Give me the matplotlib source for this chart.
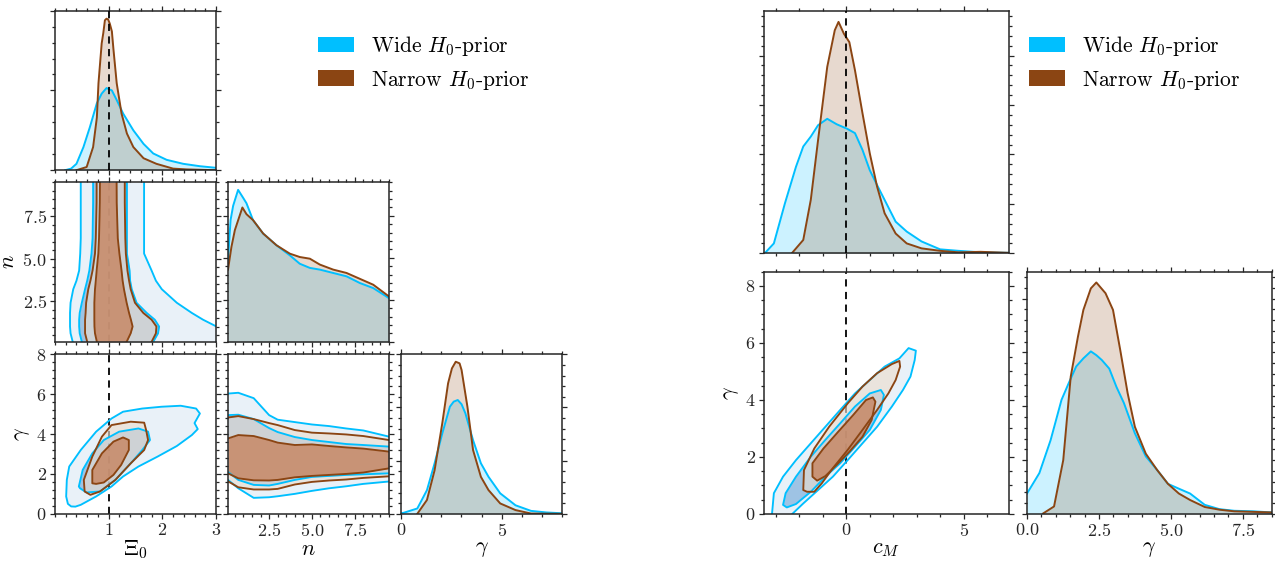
import numpy as np
import matplotlib
matplotlib.use("Agg")
import matplotlib.pyplot as plt
from matplotlib.ticker import MultipleLocator, FixedLocator, NullFormatter
from matplotlib.patches import Patch

plt.rcParams.update({
    "font.family": "serif",
    "font.serif": ["cmr10"],
    "mathtext.fontset": "cm",
    "axes.formatter.use_mathtext": True,
    "axes.unicode_minus": False,
})

WIDE = "#00BFFF"
NARROW = "#8B4513"
LABELS = [r"Wide $H_0$-prior", r"Narrow $H_0$-prior"]

# ---------------- 1D marginal posteriors ----------------
# Xi_0
xi0_wide_x = [0.19, 0.30, 0.40, 0.53, 0.65, 0.78, 0.87, 0.96, 1.06, 1.15, 1.27, 1.46, 1.65, 1.83, 2.08, 2.39, 2.70, 3.0]
xi0_wide_p = [0.0, 0.02, 0.08, 0.29, 0.54, 0.84, 0.96, 1.03, 1.00, 0.88, 0.71, 0.50, 0.33, 0.21, 0.13, 0.08, 0.05, 0.03]
xi0_narrow_x = [0.40, 0.59, 0.71, 0.78, 0.81, 0.84, 0.87, 0.90, 0.93, 0.96, 0.99, 1.02, 1.06, 1.09, 1.12, 1.15, 1.24, 1.34, 1.46, 1.65, 1.89, 2.20, 2.45, 3.0]
xi0_narrow_p = [0.0, 0.04, 0.29, 0.66, 1.09, 1.34, 1.59, 1.72, 1.88, 1.90, 1.89, 1.84, 1.74, 1.51, 1.30, 1.09, 0.71, 0.46, 0.29, 0.15, 0.08, 0.02, 0.01, 0.0]

# n
n_wide_x = [0.1, 0.25, 0.4, 0.69, 1.0, 1.18, 1.56, 2.15, 2.93, 3.71, 4.29, 4.88, 5.46, 6.24, 7.02, 7.80, 8.58, 9.5]
n_wide_p = [0.097, 0.145, 0.162, 0.181, 0.171, 0.165, 0.145, 0.129, 0.115, 0.103, 0.093, 0.088, 0.086, 0.082, 0.078, 0.070, 0.064, 0.052]
n_narrow_x = [0.1, 0.3, 0.5, 0.94, 1.18, 1.56, 2.15, 2.93, 3.71, 4.29, 4.88, 5.46, 6.24, 7.02, 7.80, 8.58, 9.5]
n_narrow_p = [0.086, 0.113, 0.133, 0.160, 0.152, 0.145, 0.129, 0.115, 0.105, 0.101, 0.099, 0.092, 0.086, 0.082, 0.075, 0.068, 0.054]

# gamma (Xi_0, n, gamma model)
g3_wide_x = [0.0, 0.14, 0.81, 1.29, 1.67, 2.05, 2.43, 2.62, 2.82, 3.01, 3.20, 3.58, 3.97, 4.35, 4.93, 5.69, 6.46, 7.23, 8.0]
g3_wide_p = [0.002, 0.004, 0.020, 0.089, 0.190, 0.302, 0.403, 0.422, 0.428, 0.412, 0.378, 0.277, 0.190, 0.139, 0.077, 0.032, 0.011, 0.005, 0.002]
g3_narrow_x = [0.81, 1.29, 1.67, 2.05, 2.34, 2.53, 2.72, 2.91, 3.01, 3.30, 3.58, 3.97, 4.35, 4.93, 5.69, 6.46, 8.0]
g3_narrow_p = [0.0, 0.052, 0.164, 0.340, 0.491, 0.547, 0.572, 0.566, 0.541, 0.403, 0.240, 0.139, 0.089, 0.039, 0.014, 0.001, 0.0]

# c_M
cm_wide_x = [-3.47, -3.08, -2.61, -2.14, -1.83, -1.51, -1.20, -0.81, -0.41, 0.03, 0.37, 0.69, 1.00, 1.31, 1.63, 2.10, 2.57, 3.20, 3.99, 4.77, 5.71, 6.9]
cm_wide_p = [0.0, 0.020, 0.101, 0.175, 0.216, 0.236, 0.259, 0.272, 0.261, 0.252, 0.243, 0.209, 0.168, 0.138, 0.108, 0.064, 0.044, 0.024, 0.008, 0.005, 0.002, 0.001]
cm_narrow_x = [-2.30, -1.83, -1.51, -1.20, -0.81, -0.49, -0.33, -0.10, 0.13, 0.37, 0.69, 1.00, 1.31, 1.63, 2.10, 2.57, 3.20, 3.99, 4.77, 5.71, 6.9]
cm_narrow_p = [0.001, 0.027, 0.108, 0.229, 0.377, 0.451, 0.468, 0.444, 0.427, 0.370, 0.283, 0.202, 0.135, 0.081, 0.040, 0.020, 0.010, 0.005, 0.002, 0.003, 0.001]

# gamma (c_M, gamma model)
g2_wide_x = [0.0, 0.43, 0.82, 1.2, 1.45, 1.71, 1.96, 2.22, 2.41, 2.60, 2.86, 3.11, 3.37, 3.75, 4.13, 4.52, 4.90, 5.28, 5.67, 6.18, 6.69, 7.20, 7.84, 8.5]
g2_wide_p = [0.038, 0.076, 0.137, 0.212, 0.243, 0.274, 0.289, 0.302, 0.295, 0.286, 0.270, 0.236, 0.206, 0.150, 0.107, 0.082, 0.056, 0.047, 0.038, 0.017, 0.009, 0.006, 0.005, 0.003]
g2_narrow_x = [0.56, 0.94, 1.26, 1.52, 1.77, 1.96, 2.22, 2.41, 2.73, 2.99, 3.24, 3.50, 3.75, 4.13, 4.52, 4.90, 5.28, 5.67, 6.18, 6.69, 7.20, 7.84, 8.5]
g2_narrow_p = [0.001, 0.014, 0.100, 0.255, 0.329, 0.379, 0.419, 0.430, 0.410, 0.379, 0.305, 0.224, 0.162, 0.112, 0.082, 0.056, 0.038, 0.026, 0.013, 0.008, 0.005, 0.004, 0.003]

# ---------------- 2D credible regions ----------------
# (Xi_0, n): left / right Xi_0 boundary of each region versus n
xin_n = [0.1, 0.6, 1.0, 1.4, 1.8, 2.4, 3.2, 3.7, 4.3, 5.3, 6.2, 8.3, 9.5]
xin_wide95_lo = [0.33, 0.29, 0.28, 0.28, 0.28, 0.29, 0.34, 0.40, 0.45, 0.47, 0.48, 0.48, 0.48]
xin_wide95_hi = [3.57, 3.26, 3.01, 2.76, 2.55, 2.27, 1.99, 1.88, 1.80, 1.66, 1.66, 1.66, 1.66]
xin_wide68_lo = [0.50, 0.46, 0.45, 0.45, 0.46, 0.50, 0.56, 0.60, 0.64, 0.68, 0.70, 0.71, 0.71]
xin_wide68_hi = [1.83, 1.92, 1.94, 1.86, 1.71, 1.52, 1.43, 1.40, 1.39, 1.34, 1.34, 1.34, 1.34]
xin_narrow95_lo = [0.60, 0.56, 0.56, 0.56, 0.57, 0.58, 0.62, 0.66, 0.70, 0.745, 0.76, 0.775, 0.776]
xin_narrow95_hi = [1.80, 1.88, 1.89, 1.80, 1.645, 1.49, 1.41, 1.38, 1.35, 1.32, 1.31, 1.30, 1.30]
xin_narrow68_lo = [0.78, 0.745, 0.735, 0.733, 0.733, 0.733, 0.745, 0.76, 0.776, 0.807, 0.82, 0.835, 0.838]
xin_narrow68_hi = [1.335, 1.41, 1.446, 1.415, 1.38, 1.335, 1.285, 1.26, 1.24, 1.20, 1.17, 1.15, 1.148]

# (n, gamma): lower / upper gamma boundary versus n
ng_n = [0.1, 0.7, 1.6, 2.5, 3.0, 4.0, 5.0, 6.0, 7.0, 8.0, 9.5]
ng_wide95_lo = [1.70, 1.28, 0.80, 0.83, 0.88, 1.00, 1.15, 1.28, 1.38, 1.50, 1.62]
ng_wide95_hi = [6.03, 6.07, 5.80, 4.95, 4.72, 4.60, 4.48, 4.40, 4.28, 4.18, 3.87]
ng_wide68_lo = [2.10, 1.70, 1.45, 1.42, 1.50, 1.70, 1.85, 1.90, 1.95, 1.98, 2.03]
ng_wide68_hi = [4.95, 4.97, 4.75, 4.30, 4.10, 3.85, 3.70, 3.60, 3.50, 3.45, 3.37]
ng_narrow95_lo = [1.63, 1.33, 1.22, 1.22, 1.25, 1.47, 1.60, 1.67, 1.72, 1.80, 1.88]
ng_narrow95_hi = [4.83, 4.90, 4.75, 4.55, 4.45, 4.20, 4.07, 4.03, 3.98, 3.90, 3.70]
ng_narrow68_lo = [2.03, 1.78, 1.68, 1.67, 1.70, 1.83, 1.90, 1.95, 2.00, 2.07, 2.28]
ng_narrow68_hi = [3.78, 3.95, 3.90, 3.70, 3.57, 3.45, 3.48, 3.40, 3.33, 3.27, 3.12]

# (Xi_0, gamma): closed region outlines
xig_wide95_x = [0.208, 0.22, 0.265, 0.48, 0.766, 1.053, 1.268, 1.626, 1.984, 2.342, 2.629, 2.70, 2.60, 2.66, 2.55, 2.27, 1.912, 1.554, 1.268, 1.053, 0.766, 0.48, 0.38, 0.301, 0.24]
xig_wide95_y = [0.87, 1.70, 2.37, 3.20, 4.12, 4.78, 5.12, 5.28, 5.37, 5.42, 5.28, 5.03, 4.55, 4.25, 3.95, 3.40, 2.87, 2.37, 1.87, 1.37, 0.87, 0.45, 0.36, 0.37, 0.50]
xig_wide68_x = [0.444, 0.516, 0.695, 0.909, 1.196, 1.555, 1.734, 1.770, 1.627, 1.411, 1.125, 0.838, 0.587, 0.466]
xig_wide68_y = [1.37, 2.20, 3.03, 3.70, 4.12, 4.28, 4.12, 3.70, 3.20, 2.53, 1.70, 1.12, 1.07, 1.28]
xig_narrow95_x = [0.552, 0.537, 0.695, 0.874, 1.053, 1.411, 1.662, 1.698, 1.734, 1.662, 1.411, 1.125, 0.838, 0.659]
xig_narrow95_y = [1.12, 1.70, 2.87, 3.87, 4.45, 4.62, 4.57, 4.20, 3.70, 3.20, 2.53, 1.70, 1.12, 0.95]
xig_narrow68_x = [0.695, 0.695, 0.874, 1.089, 1.268, 1.376, 1.376, 1.232, 1.089, 0.909, 0.766]
xig_narrow68_y = [1.53, 2.20, 3.03, 3.62, 3.83, 3.70, 3.20, 2.45, 1.95, 1.57, 1.50]

# (c_M, gamma): closed region outlines
cmg_wide95_x = [-3.16, -3.08, -2.69, -2.14, -1.51, -0.89, -0.26, 0.37, 1.00, 1.63, 2.26, 2.65, 2.96, 2.91, 2.73, 2.41, 1.94, 1.31, 0.69, 0.06, -0.57, -1.20, -1.83, -2.30, -2.45, -3.20]
cmg_wide95_y = [0.0, 0.73, 1.31, 1.89, 2.48, 3.06, 3.65, 4.23, 4.70, 5.17, 5.46, 5.82, 5.73, 5.40, 4.82, 4.35, 3.77, 3.06, 2.48, 1.89, 1.31, 0.84, 0.37, 0.0, -0.3, -0.3]
cmg_wide68_x = [-2.69, -2.58, -2.14, -1.51, -0.89, -0.26, 0.37, 1.00, 1.47, 1.60, 1.47, 1.00, 0.37, -0.26, -0.89, -1.51, -2.14, -2.53]
cmg_wide68_y = [0.32, 0.73, 1.31, 2.01, 2.60, 3.18, 3.77, 4.23, 4.35, 4.18, 3.65, 2.95, 2.36, 1.78, 1.31, 0.78, 0.35, 0.23]
cmg_narrow95_x = [-1.83, -1.80, -1.36, -0.73, 0.06, 0.69, 1.31, 1.94, 2.26, 2.29, 2.10, 1.79, 1.31, 0.69, 0.06, -0.57, -1.04, -1.36, -1.67]
cmg_narrow95_y = [0.84, 1.54, 2.30, 3.06, 3.88, 4.47, 4.94, 5.26, 5.37, 5.17, 4.70, 4.23, 3.65, 2.95, 2.25, 1.61, 1.08, 0.78, 0.78]
cmg_narrow68_x = [-1.44, -1.44, -0.97, -0.34, 0.29, 0.84, 1.13, 1.24, 1.08, 0.69, 0.14, -0.41, -0.89, -1.24]
cmg_narrow68_y = [1.31, 1.78, 2.30, 2.89, 3.47, 4.00, 4.09, 3.94, 3.30, 2.71, 2.19, 1.72, 1.33, 1.17]

# fiducial (GR) values
xi0_fid = 1.0
cm_fid = 0.0

# ---------------- styling ----------------
W, H = 1275, 561
fig = plt.figure(figsize=(W / 100, H / 100), dpi=100)

fills = {
    "wide95": ((0.31, 0.55, 0.78), 0.12),
    "wide68": ((0.38, 0.62, 0.83), 0.55),
    "narrow95": ((0.925, 0.863, 0.804), 0.62),
    "narrow68": ((0.78, 0.52, 0.38), 0.82),
}
LW = 1.35
TICK_FS = 13
LABEL_FS = 16


def add_ax(x0, y0, w, h):
    return fig.add_axes([x0 / W, 1 - (y0 + h) / H, w / W, h / H])


def style(ax, xmaj, xmin, ymaj, ymin):
    ax.xaxis.set_major_locator(xmaj)
    ax.xaxis.set_minor_locator(MultipleLocator(xmin))
    ax.yaxis.set_major_locator(ymaj)
    ax.yaxis.set_minor_locator(MultipleLocator(ymin))
    ax.tick_params(which="both", direction="out", top=True, right=True,
                   labelsize=TICK_FS, colors="0.15", width=0.9, pad=2.5)
    ax.tick_params(which="major", length=3.5)
    ax.tick_params(which="minor", length=2.0)
    for s in ax.spines.values():
        s.set_linewidth(1.1)
        s.set_color("0.15")


def hide(ax, x=True, y=True):
    if x:
        ax.xaxis.set_major_formatter(NullFormatter())
    if y:
        ax.yaxis.set_major_formatter(NullFormatter())


def plot_1d(ax, x, p, color):
    ax.fill_between(x, 0, p, color=color, alpha=0.2, lw=0)
    ax.plot(x, p, color=color, lw=1.4, solid_joinstyle="round")


def fill_level(ax, kind, fn, *args):
    c, a = fills[kind]
    fn(*args, color=c, alpha=a, lw=0)


def vline(ax, x, z):
    ax.axvline(x, color="black", ls=(0, (4, 3)), lw=1.3, zorder=z)


def xlabel(ax, s):
    ax.set_xlabel(s, fontsize=LABEL_FS, labelpad=0)


def ylabel(ax, s):
    ax.set_ylabel(s, fontsize=LABEL_FS, labelpad=3)


# ================= left corner (Xi_0, n, gamma) =================
cx = [55, 228, 401]
ry = [10.7, 182.3, 354.3]
cw, rh = 161, 159.5
xi_lim, n_lim, g_lim = (0, 3), (0.1, 9.5), (0, 8)

# Xi_0 marginal
ax = add_ax(cx[0], ry[0], cw, rh)
plot_1d(ax, xi0_wide_x, xi0_wide_p, WIDE)
plot_1d(ax, xi0_narrow_x, xi0_narrow_p, NARROW)
vline(ax, xi0_fid, 5)
ax.set_xlim(*xi_lim); ax.set_ylim(0, 2.0)
style(ax, FixedLocator([1, 2, 3]), 0.2, MultipleLocator(1.0), 0.2)
hide(ax)

# Xi_0 - n
ax = add_ax(cx[0], ry[1], cw, rh)
vline(ax, xi0_fid, 0.5)
fill_level(ax, "wide95", ax.fill_betweenx, xin_n, xin_wide95_lo, xin_wide95_hi)
fill_level(ax, "wide68", ax.fill_betweenx, xin_n, xin_wide68_lo, xin_wide68_hi)
fill_level(ax, "narrow95", ax.fill_betweenx, xin_n, xin_narrow95_lo, xin_narrow95_hi)
fill_level(ax, "narrow68", ax.fill_betweenx, xin_n, xin_narrow68_lo, xin_narrow68_hi)
for lo, hi, col in [(xin_wide95_lo, xin_wide95_hi, WIDE), (xin_wide68_lo, xin_wide68_hi, WIDE),
                    (xin_narrow95_lo, xin_narrow95_hi, NARROW), (xin_narrow68_lo, xin_narrow68_hi, NARROW)]:
    ax.plot(lo, xin_n, color=col, lw=LW)
    ax.plot(hi, xin_n, color=col, lw=LW)
ax.set_xlim(*xi_lim); ax.set_ylim(*n_lim)
style(ax, FixedLocator([1, 2, 3]), 0.2, MultipleLocator(2.5), 0.5)
hide(ax, x=True, y=False)
ylabel(ax, r"$n$")

# n marginal
ax = add_ax(cx[1], ry[1], cw, rh)
plot_1d(ax, n_wide_x, n_wide_p, WIDE)
plot_1d(ax, n_narrow_x, n_narrow_p, NARROW)
ax.set_xlim(*n_lim); ax.set_ylim(0, 0.19)
style(ax, MultipleLocator(2.5), 0.5, MultipleLocator(0.05), 0.01)
hide(ax)

# Xi_0 - gamma
ax = add_ax(cx[0], ry[2], cw, rh)
vline(ax, xi0_fid, 0.5)
for kind, xs, ys in [("wide95", xig_wide95_x, xig_wide95_y), ("wide68", xig_wide68_x, xig_wide68_y),
                     ("narrow95", xig_narrow95_x, xig_narrow95_y), ("narrow68", xig_narrow68_x, xig_narrow68_y)]:
    c, a = fills[kind]
    ax.fill(xs, ys, color=c, alpha=a, lw=0)
for xs, ys, col in [(xig_wide95_x, xig_wide95_y, WIDE), (xig_wide68_x, xig_wide68_y, WIDE),
                    (xig_narrow95_x, xig_narrow95_y, NARROW), (xig_narrow68_x, xig_narrow68_y, NARROW)]:
    ax.fill(xs, ys, facecolor="none", edgecolor=col, lw=LW, joinstyle="round")
ax.set_xlim(*xi_lim); ax.set_ylim(*g_lim)
style(ax, FixedLocator([1, 2, 3]), 0.2, MultipleLocator(2), 0.4)
xlabel(ax, r"$\Xi_0$")
ylabel(ax, r"$\gamma$")

# n - gamma
ax = add_ax(cx[1], ry[2], cw, rh)
fill_level(ax, "wide95", ax.fill_between, ng_n, ng_wide95_lo, ng_wide95_hi)
fill_level(ax, "wide68", ax.fill_between, ng_n, ng_wide68_lo, ng_wide68_hi)
fill_level(ax, "narrow95", ax.fill_between, ng_n, ng_narrow95_lo, ng_narrow95_hi)
fill_level(ax, "narrow68", ax.fill_between, ng_n, ng_narrow68_lo, ng_narrow68_hi)
for lo, hi, col in [(ng_wide95_lo, ng_wide95_hi, WIDE), (ng_wide68_lo, ng_wide68_hi, WIDE),
                    (ng_narrow95_lo, ng_narrow95_hi, NARROW), (ng_narrow68_lo, ng_narrow68_hi, NARROW)]:
    ax.plot(ng_n, lo, color=col, lw=LW)
    ax.plot(ng_n, hi, color=col, lw=LW)
ax.set_xlim(*n_lim); ax.set_ylim(*g_lim)
style(ax, MultipleLocator(2.5), 0.5, MultipleLocator(2), 0.4)
hide(ax, x=False, y=True)
xlabel(ax, r"$n$")

# gamma marginal
ax = add_ax(cx[2], ry[2], cw, rh)
plot_1d(ax, g3_wide_x, g3_wide_p, WIDE)
plot_1d(ax, g3_narrow_x, g3_narrow_p, NARROW)
ax.set_xlim(*g_lim); ax.set_ylim(0, 0.6)
style(ax, MultipleLocator(5), 1, MultipleLocator(0.2), 0.04)
hide(ax, x=False, y=True)
xlabel(ax, r"$\gamma$")

# ================= right corner (c_M, gamma) =================
cx2 = [764, 1027]
ry2 = [11, 271.7]
cw2, rh2 = 244.5, 242.3
cm_lim, g2_lim = (-3.5, 6.9), (0, 8.5)

ax = add_ax(cx2[0], ry2[0], cw2, rh2)
plot_1d(ax, cm_wide_x, cm_wide_p, WIDE)
plot_1d(ax, cm_narrow_x, cm_narrow_p, NARROW)
vline(ax, cm_fid, 5)
ax.set_xlim(*cm_lim); ax.set_ylim(0, 0.49)
style(ax, MultipleLocator(5), 1, MultipleLocator(0.1), 0.02)
hide(ax)

ax = add_ax(cx2[0], ry2[1], cw2, rh2)
vline(ax, cm_fid, 0.5)
for kind, xs, ys in [("wide95", cmg_wide95_x, cmg_wide95_y), ("wide68", cmg_wide68_x, cmg_wide68_y),
                     ("narrow95", cmg_narrow95_x, cmg_narrow95_y), ("narrow68", cmg_narrow68_x, cmg_narrow68_y)]:
    c, a = fills[kind]
    ax.fill(xs, ys, color=c, alpha=a, lw=0)
for xs, ys, col in [(cmg_wide95_x, cmg_wide95_y, WIDE), (cmg_wide68_x, cmg_wide68_y, WIDE),
                    (cmg_narrow95_x, cmg_narrow95_y, NARROW), (cmg_narrow68_x, cmg_narrow68_y, NARROW)]:
    ax.fill(xs, ys, facecolor="none", edgecolor=col, lw=LW, joinstyle="round")
ax.set_xlim(*cm_lim); ax.set_ylim(*g2_lim)
style(ax, MultipleLocator(5), 1, MultipleLocator(2), 0.5)
xlabel(ax, r"$c_M$")
ylabel(ax, r"$\gamma$")

ax = add_ax(cx2[1], ry2[1], cw2, rh2)
plot_1d(ax, g2_wide_x, g2_wide_p, WIDE)
plot_1d(ax, g2_narrow_x, g2_narrow_p, NARROW)
ax.set_xlim(*g2_lim); ax.set_ylim(0, 0.45)
style(ax, MultipleLocator(2.5), 0.5, MultipleLocator(0.1), 0.02)
hide(ax, x=False, y=True)
xlabel(ax, r"$\gamma$")

# legends
handles = [Patch(facecolor=WIDE, edgecolor="none"), Patch(facecolor=NARROW, edgecolor="none")]
for x0 in (318, 1029):
    fig.legend(handles, LABELS, loc="upper left", bbox_to_anchor=(x0 / W, 1 - 34 / H),
               frameon=False, fontsize=15.5, borderpad=0, borderaxespad=0,
               handlelength=1.65, handleheight=0.75, handletextpad=0.8, labelspacing=0.5)

fig.savefig("out.png", dpi=100)
